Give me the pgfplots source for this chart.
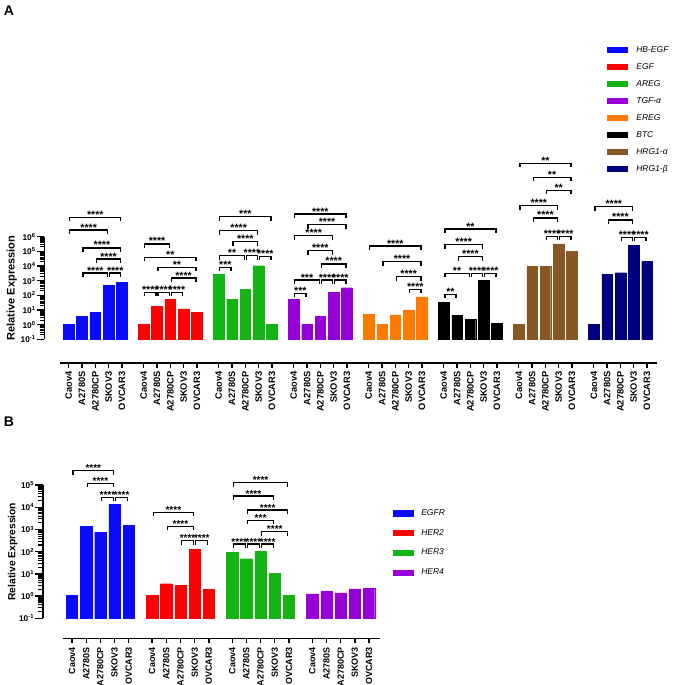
\documentclass[border=0pt]{standalone}
\usepackage{fontspec}
\setmainfont{Liberation Sans}
\usepackage{pgfplots}
\pgfplotsset{compat=1.18}

\definecolor{cBlue}{RGB}{10,10,255}
\definecolor{cRed}{RGB}{255,0,0}
\definecolor{cGreen}{RGB}{20,180,20}
\definecolor{cPurple}{RGB}{150,0,215}
\definecolor{cOrange}{RGB}{255,122,0}
\definecolor{cBlack}{RGB}{0,0,0}
\definecolor{cBrown}{RGB}{135,88,35}
\definecolor{cNavy}{RGB}{0,0,128}

\newcommand\fs[1]{\fontsize{#1}{#1}\selectfont}
\def\bsz{10.6}
\newcommand\br[4]{\draw[line width=1.3pt] ([yshift=-4pt]axis cs:#1,#3) -- (axis cs:#1,#3) -- node[midway,anchor=base,yshift=-1pt,inner sep=0pt,font=\bfseries\fs{\bsz}]{#4} (axis cs:#2,#3) -- ([yshift=-4pt]axis cs:#2,#3);}

\pgfplotsset{
  lg/.style={legend image code/.code={\fill[##1] (0pt,-2.6pt) rectangle (20pt,2.6pt);}},
  bb/.style={ybar, bar width=0.8, bar shift=0pt, fill=#1, draw=#1, line width=0.4pt, lg},
}

\begin{document}
\begin{tikzpicture}
\useasboundingbox (0,0) rectangle (675pt,-685pt);
\node[font=\bfseries\fs{14}] at (9pt,-11pt) {A};
\node[font=\bfseries\fs{14}] at (9pt,-422pt) {B};

% ---------------- Panel A ----------------
\begin{axis}[
  ymode=log, log origin y=infty,
  scale only axis,
  axis x line*=bottom, axis y line*=left,
  axis line style={-, line width=1.6pt},
  clip=false,
  tick align=outside,
  major tick length=7.5pt, minor tick length=4.5pt,
  every major tick/.style={black, line width=1.3pt},
  every minor tick/.style={black, line width=1.1pt},
  xtick style={/pgfplots/major tick length=5pt},
  xticklabel style={rotate=90, anchor=east, inner sep=1pt, font=\bfseries\fs{9.3}},
  yticklabel style={inner sep=1pt, font=\bfseries\fs{8.3}},
  legend cell align=left,
  at={(60pt,-339.3pt)}, anchor=south west,
  width=597pt, height=102.6pt,
  xmin=-0.654, xmax=44.23, ymin=0.1, ymax=1e6,
  axis x line shift=23.4pt, axis y line shift=15.7pt,
  xtick={0,1,2,3,4,5.64,6.64,7.64,8.64,9.64,11.28,12.28,13.28,14.28,15.28,16.92,17.92,18.92,19.92,20.92,22.56,23.56,24.56,25.56,26.56,28.2,29.2,30.2,31.2,32.2,33.84,34.84,35.84,36.84,37.84,39.48,40.48,41.48,42.48,43.48},
  xticklabels={Caov4,A2780S,A2780CP,SKOV3,OVCAR3,Caov4,A2780S,A2780CP,SKOV3,OVCAR3,Caov4,A2780S,A2780CP,SKOV3,OVCAR3,Caov4,A2780S,A2780CP,SKOV3,OVCAR3,Caov4,A2780S,A2780CP,SKOV3,OVCAR3,Caov4,A2780S,A2780CP,SKOV3,OVCAR3,Caov4,A2780S,A2780CP,SKOV3,OVCAR3,Caov4,A2780S,A2780CP,SKOV3,OVCAR3},
  ytick={0.1,1,10,100,1000,10000,100000,1000000},
  yticklabels={10\textsuperscript{-1},10\textsuperscript{0},10\textsuperscript{1},10\textsuperscript{2},10\textsuperscript{3},10\textsuperscript{4},10\textsuperscript{5},10\textsuperscript{6}},
  minor ytick={0.2,0.3,0.4,0.5,0.6,0.7,0.8,0.9,2,3,4,5,6,7,8,9,20,30,40,50,60,70,80,90,200,300,400,500,600,700,800,900,2000,3000,4000,5000,6000,7000,8000,9000,20000,30000,40000,50000,60000,70000,80000,90000,200000,300000,400000,500000,600000,700000,800000,900000},
  ylabel={Relative Expression},
  ylabel style={at={(axis description cs:-0.0809,0.5)}, anchor=center, font=\bfseries\fs{11}},
  legend style={at={(axis description cs:0.9158,2.859)}, anchor=north west, draw=none, fill=none, inner sep=0pt, row sep=9.5pt, column sep=9pt, font=\itshape\fs{8.5}, nodes={inner sep=0pt, text height=6pt, text depth=1.5pt}},
]
\addplot[bb=cBlue] coordinates {(0,1.0) (1,3.5) (2,6.9) (3,500) (4,770)};
\addlegendentry{HB-EGF}
\addplot[bb=cRed] coordinates {(5.64,1.0) (6.64,17) (7.64,56) (8.64,11.7) (9.64,6.9)};
\addlegendentry{EGF}
\addplot[bb=cGreen] coordinates {(11.28,2800) (12.28,56) (13.28,260) (14.28,10500) (15.28,1.0)};
\addlegendentry{AREG}
\addplot[bb=cPurple] coordinates {(16.92,53) (17.92,1.0) (18.92,3.7) (19.92,160) (20.92,330)};
\addlegendentry{TGF-α}
\addplot[bb=cOrange] coordinates {(22.56,5.3) (23.56,1.1) (24.56,4.6) (25.56,10) (26.56,77)};
\addlegendentry{EREG}
\addplot[bb=cBlack] coordinates {(28.2,33) (29.2,4.1) (30.2,2.2) (31.2,1000) (32.2,1.2)};
\addlegendentry{BTC}
\addplot[bb=cBrown] coordinates {(33.84,1.1) (34.84,9000) (35.84,10000) (36.84,330000) (37.84,100000)};
\addlegendentry{HRG1-α}
\addplot[bb=cNavy] coordinates {(39.48,1.0) (40.48,2800) (41.48,3500) (42.48,245000) (43.48,20000)};
\addlegendentry{HRG1-β}
% brackets
\br{0.08}{3.92}{2.1e7}{****}
\br{0.08}{2.92}{2.8e6}{****}
\br{1.08}{3.92}{1.7e5}{****}
\br{2.08}{3.92}{3.0e4}{****}
\br{1.08}{2.92}{3.3e3}{****}
\br{3.08}{3.92}{3.3e3}{****}
\br{5.72}{7.56}{3.2e5}{****}
\br{5.72}{9.56}{3.9e4}{**}
\br{6.72}{9.56}{8.1e3}{**}
\br{7.72}{9.56}{1.5e3}{****}
\br{5.72}{6.56}{160}{****}
\br{6.72}{7.56}{160}{****}
\br{7.72}{8.56}{160}{****}
\br{11.36}{15.2}{2.3e7}{***}
\br{11.36}{14.2}{2.6e6}{****}
\br{12.36}{14.2}{4.6e5}{****}
\br{11.36}{13.2}{5.0e4}{**}
\br{13.36}{14.2}{5.0e4}{****}
\br{14.36}{15.2}{4.6e4}{****}
\br{11.36}{12.2}{8.1e3}{***}
\br{17.0}{20.84}{3.5e7}{****}
\br{18.0}{20.84}{6.6e6}{****}
\br{17.0}{19.84}{1.2e6}{****}
\br{18.0}{19.84}{1.1e5}{****}
\br{19.0}{20.84}{1.4e4}{****}
\br{17.0}{18.84}{1.1e3}{***}
\br{19.0}{19.84}{1.1e3}{****}
\br{20.0}{20.84}{1.1e3}{****}
\br{17.0}{17.84}{140}{***}
\br{22.64}{26.48}{2.3e5}{****}
\br{23.64}{26.48}{2.0e4}{****}
\br{24.64}{26.48}{1.9e3}{****}
\br{25.64}{26.48}{260}{****}
\br{28.28}{32.12}{3.3e6}{**}
\br{28.28}{31.12}{2.8e5}{****}
\br{29.28}{31.12}{4.4e4}{****}
\br{28.28}{30.12}{3.2e3}{**}
\br{30.28}{31.12}{3.2e3}{****}
\br{31.28}{32.12}{3.2e3}{****}
\br{28.28}{29.12}{120}{**}
\br{33.92}{37.76}{1e11}{**}
\br{34.92}{37.76}{1.1e10}{**}
\br{35.92}{37.76}{1.5e9}{**}
\br{33.92}{36.76}{1.3e8}{****}
\br{34.92}{36.76}{1.9e7}{****}
\br{35.92}{36.76}{1.05e6}{****}
\br{36.92}{37.76}{1.05e6}{****}
\br{39.56}{42.4}{1.1e8}{****}
\br{40.56}{42.4}{1.4e7}{****}
\br{41.56}{42.4}{8.9e5}{****}
\br{42.56}{43.4}{8.9e5}{****}
\end{axis}

% ---------------- Panel B ----------------
\def\bsz{10}
\begin{axis}[
  ymode=log, log origin y=infty,
  scale only axis,
  axis x line*=bottom, axis y line*=left,
  axis line style={-, line width=1.6pt},
  clip=false,
  tick align=outside,
  major tick length=7.5pt, minor tick length=4.5pt,
  every major tick/.style={black, line width=1.3pt},
  every minor tick/.style={black, line width=1.1pt},
  xtick style={/pgfplots/major tick length=5pt},
  xticklabel style={rotate=90, anchor=east, inner sep=1pt, font=\bfseries\fs{9}},
  yticklabel style={inner sep=1pt, font=\bfseries\fs{8.3}},
  legend cell align=left,
  at={(62.7pt,-618.3pt)}, anchor=south west,
  width=317.3pt, height=133.3pt,
  xmin=-0.655, xmax=21.69, ymin=0.1, ymax=1e5,
  axis x line shift=20pt, axis y line shift=20pt,
  xtick={0,1,2,3,4,5.64,6.64,7.64,8.64,9.64,11.28,12.28,13.28,14.28,15.28,16.92,17.92,18.92,19.92,20.92},
  xticklabels={Caov4,A2780S,A2780CP,SKOV3,OVCAR3,Caov4,A2780S,A2780CP,SKOV3,OVCAR3,Caov4,A2780S,A2780CP,SKOV3,OVCAR3,Caov4,A2780S,A2780CP,SKOV3,OVCAR3},
  ytick={0.1,1,10,100,1000,10000,100000},
  yticklabels={10\textsuperscript{-1},10\textsuperscript{0},10\textsuperscript{1},10\textsuperscript{2},10\textsuperscript{3},10\textsuperscript{4},10\textsuperscript{5}},
  minor ytick={0.2,0.3,0.4,0.5,0.6,0.7,0.8,0.9,2,3,4,5,6,7,8,9,20,30,40,50,60,70,80,90,200,300,400,500,600,700,800,900,2000,3000,4000,5000,6000,7000,8000,9000,20000,30000,40000,50000,60000,70000,80000,90000},
  ylabel={Relative Expression},
  ylabel style={at={(axis description cs:-0.1576,0.5)}, anchor=center, font=\bfseries\fs{10.3}},
  legend style={at={(axis description cs:1.040,0.818)}, anchor=north west, draw=none, fill=none, inner sep=0pt, row sep=12.2pt, column sep=8pt, font=\itshape\fs{8.5}, nodes={inner sep=0pt, text height=6pt, text depth=1.5pt}},
]
\addplot[bb=cBlue] coordinates {(0,1.05) (1,1400) (2,760) (3,13800) (4,1500)};
\addlegendentry{EGFR}
\addplot[bb=cRed] coordinates {(5.64,1.1) (6.64,3.6) (7.64,3.0) (8.64,130) (9.64,2.0)};
\addlegendentry{HER2}
\addplot[bb=cGreen] coordinates {(11.28,95) (12.28,48) (13.28,106) (14.28,10.5) (15.28,1.1)};
\addlegendentry{HER3}
\addplot[bb=cPurple] coordinates {(16.92,1.27) (17.92,1.6) (18.92,1.4) (19.92,2.1) (20.92,2.2)};
\addlegendentry{HER4}
\br{0.08}{2.92}{4.4e5}{****}
\br{1.08}{2.92}{1.2e5}{****}
\br{2.08}{2.92}{2.8e4}{****}
\br{3.08}{3.92}{2.8e4}{****}
\br{5.72}{8.56}{5.8e3}{****}
\br{6.72}{8.56}{1.4e3}{****}
\br{7.72}{8.56}{310}{****}
\br{8.72}{9.56}{310}{****}
\br{11.36}{15.2}{1.26e5}{****}
\br{11.36}{14.2}{3.2e4}{****}
\br{12.36}{15.2}{7.4e3}{****}
\br{12.36}{14.2}{2.6e3}{***}
\br{13.36}{15.2}{780}{****}
\br{11.36}{12.2}{220}{****}
\br{12.36}{13.2}{220}{****}
\br{13.36}{14.2}{220}{****}
\end{axis}
\end{tikzpicture}
\end{document}
